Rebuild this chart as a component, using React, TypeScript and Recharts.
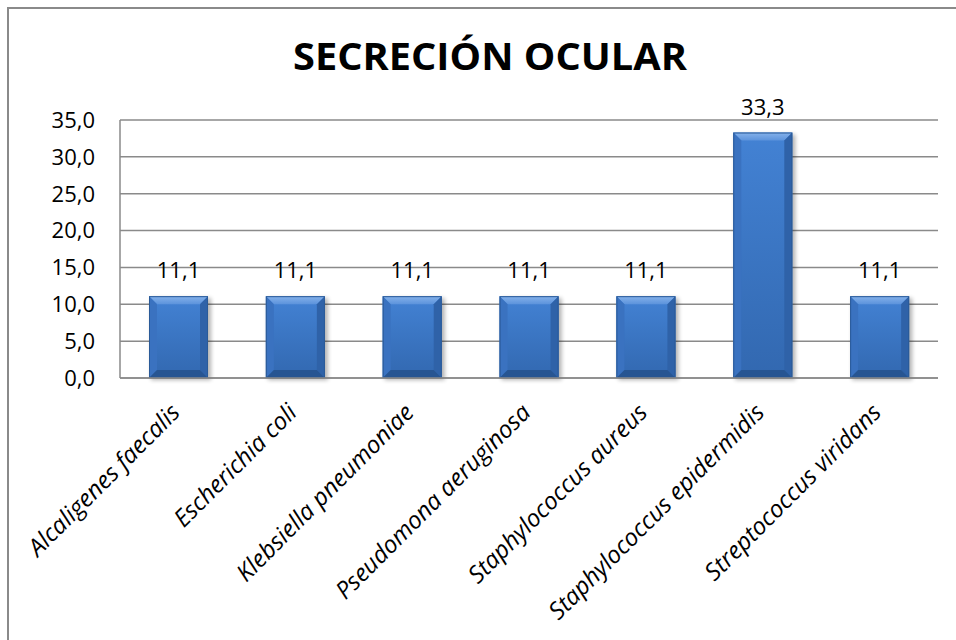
import React from "react";
import { BarChart, Bar, XAxis, YAxis, CartesianGrid, LabelList } from "recharts";

const categories = [
  "Alcaligenes faecalis",
  "Escherichia coli",
  "Klebsiella pneumoniae",
  "Pseudomona aeruginosa",
  "Staphylococcus aureus",
  "Staphylococcus epidermidis",
  "Streptococcus viridans",
];
const values = [11.1, 11.1, 11.1, 11.1, 11.1, 33.3, 11.1];
const yTicks = [0, 5, 10, 15, 20, 25, 30, 35];

const data = categories.map((name, i) => ({ name, value: values[i] }));

const FONT = "'Open Sans', 'DejaVu Sans', sans-serif";
const GRID = "#8a8a8a";
const fmt = (v: number) => v.toFixed(1).replace(".", ",");

function BevelBar(props: any) {
  const { x, y, width: w, height: h, index } = props;
  if (!w || !h) return null;
  const b = Math.min(8, h / 3);
  const id = `bar${index}`;
  return (
    <g>
      <defs>
        <linearGradient id={`${id}-body`} x1="0" y1="0" x2="0" y2="1">
          <stop offset="0%" stopColor="#4382d4" />
          <stop offset="100%" stopColor="#3268b0" />
        </linearGradient>
        <linearGradient id={`${id}-top`} x1="0" y1="0" x2="0" y2="1">
          <stop offset="0%" stopColor="#86b2ea" />
          <stop offset="100%" stopColor="#5c93dc" />
        </linearGradient>
        <filter id={`${id}-sh`} x="-20%" y="-20%" width="140%" height="140%">
          <feGaussianBlur stdDeviation="2" />
        </filter>
      </defs>
      <rect x={x + 2} y={y + 2} width={w + 1} height={h} fill="#000" opacity={0.3} filter={`url(#${id}-sh)`} />
      <rect x={x} y={y} width={w} height={h} fill={`url(#${id}-body)`} />
      <polygon
        points={`${x},${y} ${x + w},${y} ${x + w - b},${y + b} ${x + b},${y + b}`}
        fill={`url(#${id}-top)`}
      />
      <polygon
        points={`${x},${y} ${x + b},${y + b} ${x + b},${y + h - b} ${x},${y + h}`}
        fill="#3a72c0"
      />
      <polygon
        points={`${x + w},${y} ${x + w - b},${y + b} ${x + w - b},${y + h - b} ${x + w},${y + h}`}
        fill="#2f62a8"
      />
      <polygon
        points={`${x},${y + h} ${x + b},${y + h - b} ${x + w - b},${y + h - b} ${x + w},${y + h}`}
        fill="#275592"
      />
      <rect x={x + 0.5} y={y + 0.5} width={w - 1} height={h - 1} fill="none" stroke="#2a5a98" strokeWidth={1} />
    </g>
  );
}

function ValueLabel(props: any) {
  const { x, y, width, value } = props;
  return (
    <text
      x={x + width / 2}
      y={y - 18}
      textAnchor="middle"
      fontFamily={FONT}
      fontSize={22}
      fill="#000"
    >
      {fmt(value)}
    </text>
  );
}

function CategoryTick(props: any) {
  const { x, y, payload } = props;
  const ax = x + 3;
  const ay = y + 36;
  return (
    <text
      x={ax}
      y={ay}
      transform={`rotate(-45 ${ax} ${ay})`}
      textAnchor="end"
      fontFamily={FONT}
      fontStyle="italic"
      fontSize={24}
      fill="#000"
    >
      {payload.value}
    </text>
  );
}

export default function App() {
  return (
    <div style={{ position: "absolute", left: 0, top: 0, width: 956, height: 640, overflow: "hidden", background: "#fff" }}>
      <div
        style={{
          position: "absolute",
          left: 7,
          top: 7,
          width: 1000,
          height: 700,
          borderTop: "2px solid #8a8a8a",
          borderLeft: "2px solid #8a8a8a",
        }}
      />
      <svg style={{ position: "absolute", left: 0, top: 0 }} width={956} height={100}>
        <text
          x={490}
          y={70}
          textAnchor="middle"
          fontFamily={FONT}
          fontWeight="bold"
          fontSize={38}
          textLength={394}
          lengthAdjust="spacingAndGlyphs"
          fill="#000"
        >
          SECRECIÓN OCULAR
        </text>
      </svg>
      <div style={{ position: "absolute", left: 0, top: 0 }}>
        <BarChart width={956} height={640} data={data} margin={{ top: 120, right: 18, bottom: 0, left: 0 }}>
          <CartesianGrid vertical={false} stroke={GRID} strokeWidth={1.5} />
          <YAxis
            width={120}
            domain={[0, 35]}
            ticks={yTicks}
            interval={0}
            tickFormatter={fmt}
            axisLine={{ stroke: GRID, strokeWidth: 1.5 }}
            tickLine={false}
            tickSize={0}
            tickMargin={25}
            tick={{ fill: "#000", fontFamily: FONT, fontSize: 22 }}
          />
          <XAxis
            dataKey="name"
            height={262}
            interval={0}
            axisLine={{ stroke: GRID, strokeWidth: 1.5 }}
            tickLine={false}
            tickSize={0}
            tickMargin={0}
            tick={<CategoryTick />}
          />
          <Bar dataKey="value" barSize={59} shape={<BevelBar />} isAnimationActive={false}>
            <LabelList dataKey="value" content={<ValueLabel />} />
          </Bar>
        </BarChart>
      </div>
    </div>
  );
}
